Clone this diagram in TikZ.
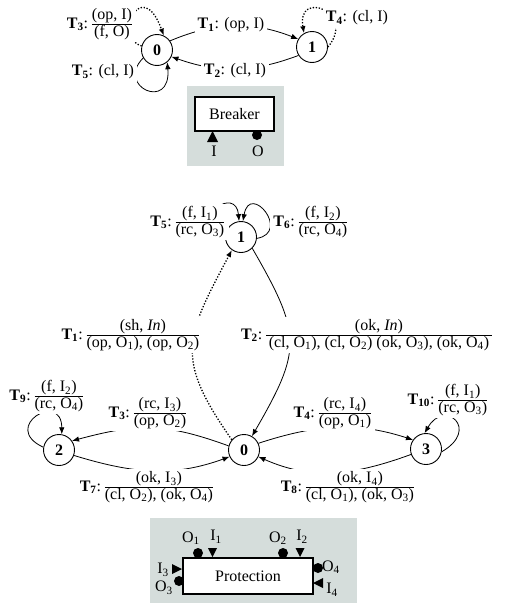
\documentclass[tikz,border=0pt]{standalone}
\usepackage{amsmath}
\usepackage{fontspec}
\setmainfont{Liberation Serif}
\usetikzlibrary{arrows.meta}
\newcommand{\fr}[2]{$\genfrac{}{}{0.6pt}{1}{\hbox{#1}}{\hbox{#2}}$}
\newcommand{\Tl}[1]{\textbf{T\textsubscript{#1}}:}
\newcommand{\sbs}[1]{\textsubscript{#1}}
\definecolor{boxgray}{RGB}{213,221,219}
\begin{document}
\begin{tikzpicture}[x=1pt,y=1pt,font=\fontsize{16}{19}\selectfont,
  st/.style={circle,draw,line width=0.9pt,minimum size=31pt,inner sep=0pt,font=\fontsize{16}{19}\selectfont\bfseries},
  lbl/.style={fill=white,inner sep=3pt},
  edge/.style={line width=0.8pt,-{Latex[length=7pt,width=5.5pt]}},
  dotedge/.style={edge,line width=1.3pt,dash pattern=on 1.3pt off 1.7pt},
  port/.style={inner sep=1pt}]
\useasboundingbox (0,0) rectangle (504,-613);

% ---------- Breaker automaton ----------
\node[st] (b0) at (157,-50) {0};
\node[st] (b1) at (312,-47) {1};

\draw[edge] (b0.35) to[bend left=22] (b1.150);
\draw[edge] (b1.212) to[bend left=20] (b0.-25);
\draw[dotedge] (b0.165) to[out=165,in=110,out distance=30pt,in distance=65pt] (b0.65);
\draw[edge] (b0.210) to[out=225,in=-85,out distance=40pt,in distance=50pt] (b0.-50);
\draw[dotedge] (b1.0) to[out=50,in=100,out distance=45pt,in distance=45pt] (b1.120);

\node[lbl] (lt3) at (100,-24) {\Tl{3}\,\fr{(op, I)}{(f, O)}};
\node[lbl] (lt1) at (231,-25) {\Tl{1} (op, I)};
\node[lbl] (lt2) at (235,-71) {\Tl{2} (cl, I)};
\node[lbl] (lt5) at (103,-72) {\Tl{5} (cl, I)};
\node[lbl] (lt4) at (357,-18) {\Tl{4} (cl, I)};

% Breaker block
\fill[boxgray] (187,-86) rectangle (284,-166);
\node[draw,line width=1.4pt,fill=white,minimum width=79pt,minimum height=34pt,inner sep=0pt] (brk) at (234.5,-114) {Breaker};
\fill (207,-142) -- (212.5,-131) -- (218,-142) -- cycle;
\fill (257,-135) circle (5pt);
\node[port] (pI) at (214,-151) {I};
\node[port] (pO) at (258,-151) {O};

% ---------- Protection automaton ----------
\node[st] (p1) at (241,-237) {1};
\node[st] (p0) at (244,-450) {0};
\node[st] (p2) at (59,-450) {2};
\node[st] (p3) at (426,-449) {3};

\draw[dotedge] (p0.140) to[out=125,in=-118,distance=100pt] (p1.-125);
\draw[edge] (p1.-45) to[out=-60,in=60,distance=100pt] (p0.60);
\draw[edge] (p0.165) to[out=160,in=15,distance=68pt] (p2.35);
\draw[edge] (p2.-20) to[out=-17,in=-160] (p0.-155);
\draw[edge] (p0.25) to[out=18,in=162] (p3.145);
\draw[edge] (p3.200) to[out=200,in=-24] (p0.-25);
\draw[edge] (p2.170) to[out=155,in=90,out distance=48pt,in distance=44pt] (p2.80);
\draw[edge] (p3.-10) to[out=30,in=60,out distance=45pt,in distance=40pt] (p3.95);
\draw[edge] (p1.175) to[out=150,in=95,out distance=40pt,in distance=35pt] (p1.97);
\draw[edge] (p1.-5) to[out=10,in=80,out distance=35pt,in distance=40pt] (p1.83);

\node[lbl] (m5) at (188,-222) {\Tl{5}\,\fr{(f, I\sbs{1})}{(rc, O\sbs{3})}};
\node[lbl] (m6) at (311,-222) {\Tl{6}\,\fr{(f, I\sbs{2})}{(rc, O\sbs{4})}};
\node[lbl] (m1) at (131,-335) {\Tl{1}\,\fr{(sh, \textit{In})}{(op, O\sbs{1}), (op, O\sbs{2})}};
\node[lbl] (m2) at (367,-335) {\Tl{2}\,\fr{(ok, \textit{In})}{\,(cl, O\sbs{1}), (cl, O\sbs{2}) (ok, O\sbs{3}), (ok, O\sbs{4})\,}};
\node[lbl] (m9) at (47,-396) {\Tl{9}\,\fr{(f, I\sbs{2})}{(rc, O\sbs{4})}};
\node[lbl] (m3) at (148,-413) {\Tl{3}\,\fr{(rc, I\sbs{3})}{(op, O\sbs{2})}};
\node[lbl] (m4) at (333,-413) {\Tl{4}\,\fr{(rc, I\sbs{4})}{(op, O\sbs{1})}};
\node[lbl] (m10) at (448,-400) {\Tl{10}\,\fr{(f, I\sbs{1})}{(rc, O\sbs{3})}};
\node[lbl] (m7) at (147,-487) {\Tl{7}\,\fr{(ok, I\sbs{3})}{(cl, O\sbs{2}), (ok, O\sbs{4})}};
\node[lbl] (m8) at (348,-487) {\Tl{8}\,\fr{(ok, I\sbs{4})}{(cl, O\sbs{1}), (ok, O\sbs{3})}};

% Protection block
\fill[boxgray] (150,-518) rectangle (357,-603);
\node[draw,line width=1.4pt,fill=white,minimum width=130pt,minimum height=36pt,inner sep=0pt] (prot) at (248,-576) {Protection};
\fill (198,-553) circle (5pt);
\fill (208,-548) -- (217,-548) -- (212.5,-557) -- cycle;
\fill (283,-553) circle (5pt);
\fill (295.5,-548) -- (304.5,-548) -- (300,-557) -- cycle;
\fill (172,-564) -- (172,-574) -- (182,-569) -- cycle;
\fill (179,-581) circle (5pt);
\fill (318,-568) circle (5pt);
\fill (323,-578) -- (323,-588) -- (313,-583) -- cycle;
\node[port] (pO1) at (191,-538) {O\sbs{1}};
\node[port] (pI1) at (216,-537) {I\sbs{1}};
\node[port] (pO2) at (278,-538) {O\sbs{2}};
\node[port] (pI2) at (302,-537) {I\sbs{2}};
\node[port] (pI3) at (163,-570) {I\sbs{3}};
\node[port] (pO3) at (164,-588) {O\sbs{3}};
\node[port] (pO4) at (331,-567) {O\sbs{4}};
\node[port] (pI4) at (332,-590) {I\sbs{4}};
\end{tikzpicture}
\end{document}
